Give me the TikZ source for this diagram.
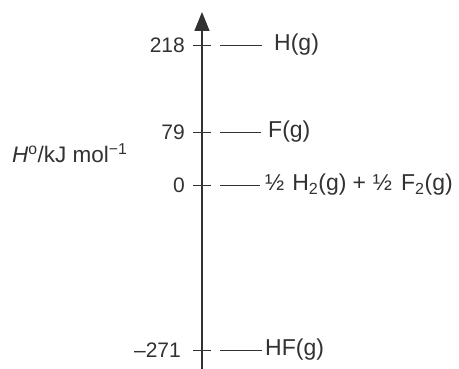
\documentclass[tikz,border=0pt]{standalone}
\usepackage{fontspec}
\setmainfont{Liberation Sans}
\usepackage{tikz}
\usetikzlibrary{arrows.meta}
\definecolor{ink}{RGB}{50,50,50}

\tikzset{
    axisline/.style={ink, line width=1.5pt, -{Triangle[width=15pt,length=19pt]}},
    tickline/.style={ink, line width=0.9pt},
    levelline/.style={ink, line width=0.9pt},
    value/.style={ink, anchor=east, inner sep=0pt, font=\fontsize{21}{24}\selectfont},
    species/.style={ink, anchor=west, inner sep=0pt, font=\fontsize{23}{26}\selectfont},
}

\begin{document}
\begin{tikzpicture}[x=1pt, y=1pt]
    \useasboundingbox (0,0) rectangle (459,369);
    %% enthalpy axis
    \coordinate (base) at (202,0);
    \coordinate (top) at (202,357);
    \draw[axisline] (base) -- (top);
    %% axis label
    \node[ink, anchor=west, inner sep=0pt, font=\fontsize{22.5}{25}\selectfont] (ylab) at (12,216)
        {\textit{H}\textsuperscript{o}/kJ mol\textsuperscript{−1}};
    %% tick marks on the axis
    \coordinate (t1) at (202,324);
    \coordinate (t2) at (202,237);
    \coordinate (t3) at (202,184);
    \coordinate (t4) at (202,19);
    \draw[tickline] (t1) ++(-9,0) -- ++(18,0);
    \draw[tickline] (t2) ++(-9,0) -- ++(18,0);
    \draw[tickline] (t3) ++(-9,0) -- ++(18,0);
    \draw[tickline] (t4) ++(-9,0) -- ++(18,0);
    %% values left of the ticks
    \node[value] (v1) at (185,324) {218};
    \node[value] (v2) at (185,237) {79};
    \node[value] (v3) at (185,184) {0};
    \node[value] (v4) at (181,19) {--271};
    %% levels and species
    \coordinate (l1) at (220,324);
    \coordinate (l2) at (220,237);
    \coordinate (l3) at (220,184);
    \coordinate (l4) at (220,19);
    \node[species] (s1) at (274,324) {H(g)};
    \node[species] (s2) at (268,237) {F(g)};
    \node[species] (s3) at (265,184)
        {\textonehalf\hspace{8pt}H\textsubscript{2}(g)\hspace{6pt}+\hspace{7pt}\textonehalf\hspace{9pt}F\textsubscript{2}(g)};
    \node[species] (s4) at (265,19) {HF(g)};
    \draw[levelline, shorten >=12pt] (l1) -- (s1.west);
    \draw[levelline, shorten >=7pt] (l2) -- (s2.west);
    \draw[levelline, shorten >=5pt] (l3) -- (s3.west);
    \draw[levelline, shorten >=3pt] (l4) -- (s4.west);
\end{tikzpicture}
\end{document}
